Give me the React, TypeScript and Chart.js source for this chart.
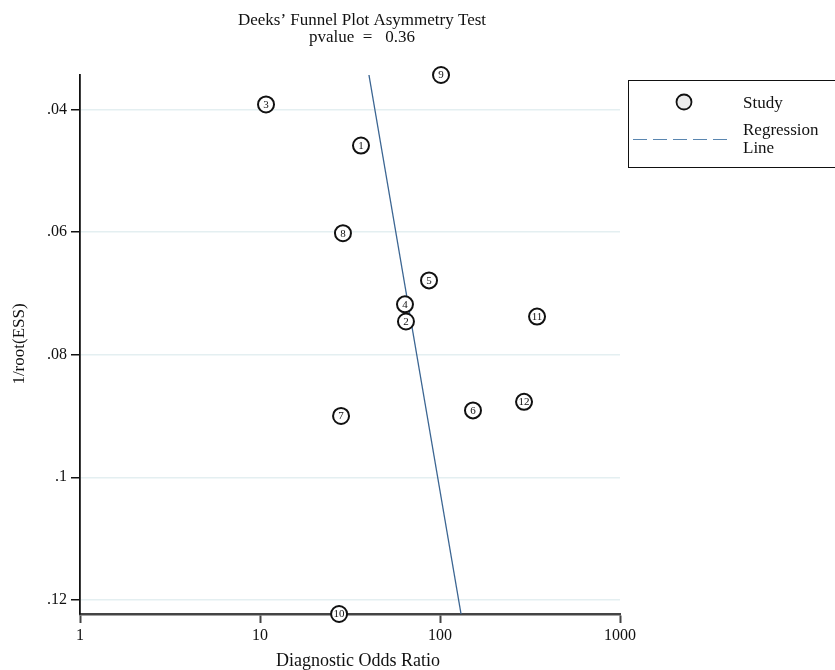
import React, { useEffect, useRef } from 'react';
import { Chart, registerables } from 'chart.js';

Chart.register(...registerables);

const studyIds = ['1', '2', '3', '4', '5', '6', '7', '8', '9', '10', '11', '12'];
const diagnosticOddsRatio = [36.4, 64.7, 10.8, 63.9, 86.9, 152.5, 28.2, 28.9, 101.3, 27.5, 346, 293];
const invRootEss = [0.0459, 0.0746, 0.0392, 0.0718, 0.0679, 0.0891, 0.09, 0.0602, 0.0344, 0.1223, 0.0738, 0.0877];
const regressionDor = [40.3, 130.9];
const regressionY = [0.0344, 0.1223];
const xTickValues = [1, 10, 100, 1000];
const xTickLabels = ['1', '10', '100', '1000'];
const yTickValues = [0.04, 0.06, 0.08, 0.1, 0.12];
const yTickLabels = ['.04', '.06', '.08', '.1', '.12'];
const titleLines = ['Deeks\u2019 Funnel Plot Asymmetry Test', 'pvalue  =   0.36'];
const xAxisTitle = 'Diagnostic Odds Ratio';
const yAxisTitle = '1/root(ESS)';
const legendStudy = 'Study';
const legendRegression = ['Regression', 'Line'];

const FONT = "'Liberation Serif', 'DejaVu Serif', serif";
const W = 835;
const H = 670;
const PLOT_LEFT = 80;
const PLOT_RIGHT = 620;
const PLOT_TOP = 75;
const PLOT_BOTTOM = 614;

const overlayPlugin = {
  id: 'overlay',
  afterDatasetsDraw(chart: any) {
    const ctx = chart.ctx;
    const meta = chart.getDatasetMeta(0);
    ctx.save();
    ctx.fillStyle = '#111';
    ctx.font = `11px ${FONT}`;
    ctx.textAlign = 'center';
    ctx.textBaseline = 'middle';
    meta.data.forEach((el: any, i: number) => {
      ctx.fillText(studyIds[i], el.x, el.y + 0.5);
    });
    ctx.restore();
  },
  afterDraw(chart: any) {
    const ctx = chart.ctx;
    ctx.save();
    ctx.fillStyle = '#111';
    ctx.textAlign = 'center';
    ctx.textBaseline = 'middle';
    ctx.font = `17px ${FONT}`;
    ctx.fillText(titleLines[0], 362, 21);
    ctx.fillText(titleLines[1], 362, 38);
    ctx.font = `18px ${FONT}`;
    ctx.fillText(xAxisTitle, 358, 661);
    ctx.save();
    ctx.translate(20, 344);
    ctx.rotate(-Math.PI / 2);
    ctx.font = `17px ${FONT}`;
    ctx.fillText(yAxisTitle, 0, 0);
    ctx.restore();

    // legend box
    ctx.strokeStyle = '#111';
    ctx.lineWidth = 1;
    ctx.strokeRect(628.5, 80.5, 220, 87);
    ctx.beginPath();
    ctx.arc(684, 102, 7.5, 0, Math.PI * 2);
    ctx.fillStyle = '#ececec';
    ctx.fill();
    ctx.lineWidth = 1.8;
    ctx.strokeStyle = '#111';
    ctx.stroke();
    ctx.beginPath();
    ctx.setLineDash([14, 6]);
    ctx.strokeStyle = '#5a86b0';
    ctx.lineWidth = 1.2;
    ctx.moveTo(633, 139.5);
    ctx.lineTo(729, 139.5);
    ctx.stroke();
    ctx.setLineDash([]);
    ctx.fillStyle = '#111';
    ctx.textAlign = 'left';
    ctx.font = `17px ${FONT}`;
    ctx.fillText(legendStudy, 743, 104);
    ctx.fillText(legendRegression[0], 743, 131);
    ctx.fillText(legendRegression[1], 743, 149);
    ctx.restore();
  },
};

export default function App() {
  const ref = useRef<HTMLCanvasElement>(null);

  useEffect(() => {
    if (!ref.current) return;
    const chart = new Chart(ref.current, {
      type: 'scatter',
      data: {
        datasets: [
          {
            label: 'Study',
            data: diagnosticOddsRatio.map((x, i) => ({ x, y: invRootEss[i] })),
            pointRadius: 8,
            pointHoverRadius: 8,
            pointBackgroundColor: '#ffffff',
            pointBorderColor: '#111111',
            pointBorderWidth: 2,
            clip: false as any,
            order: 0,
          },
          {
            type: 'line' as any,
            label: 'Regression Line',
            data: regressionDor.map((x, i) => ({ x, y: regressionY[i] })),
            borderColor: '#3b6592',
            borderWidth: 1.3,
            pointRadius: 0,
            showLine: true,
            fill: false,
            order: 1,
          },
        ],
      },
      options: {
        animation: false,
        responsive: false,
        maintainAspectRatio: false,
        events: [],
        layout: { padding: { left: 0, right: W - PLOT_RIGHT, top: PLOT_TOP, bottom: 0 } },
        plugins: {
          legend: { display: false },
          title: { display: false },
          tooltip: { enabled: false },
        },
        scales: {
          x: {
            type: 'logarithmic',
            min: 1,
            max: 1000,
            afterBuildTicks: (s: any) => {
              s.ticks = xTickValues.map((v) => ({ value: v }));
            },
            afterFit: (s: any) => {
              s.height = H - PLOT_BOTTOM;
            },
            ticks: {
              autoSkip: false,
              maxRotation: 0,
              color: '#111',
              font: { family: FONT, size: 16 },
              padding: 3,
              callback: (v: any) => xTickLabels[xTickValues.indexOf(Number(v))] ?? '',
            },
            grid: {
              drawOnChartArea: false,
              drawTicks: true,
              tickLength: 9,
              tickColor: '#444',
              tickWidth: 2,
            },
            border: { display: true, color: '#444', width: 2.5 },
          },
          y: {
            type: 'linear',
            reverse: true,
            min: 0.0344,
            max: 0.1223,
            afterBuildTicks: (s: any) => {
              s.ticks = yTickValues.map((v) => ({ value: v }));
            },
            afterFit: (s: any) => {
              s.width = PLOT_LEFT;
            },
            ticks: {
              autoSkip: false,
              color: '#111',
              font: { family: FONT, size: 16 },
              padding: 4,
              callback: (v: any) => {
                const i = yTickValues.findIndex((t) => Math.abs(t - Number(v)) < 1e-9);
                return i >= 0 ? yTickLabels[i] : '';
              },
            },
            grid: {
              color: '#e4eff1',
              lineWidth: 1.5,
              drawTicks: true,
              tickLength: 9,
              tickColor: '#111',
              tickWidth: 1.5,
            },
            border: { display: true, color: '#111', width: 1.8 },
          },
        },
      } as any,
      plugins: [overlayPlugin],
    });
    return () => chart.destroy();
  }, []);

  return (
    <div style={{ position: 'fixed', left: 0, top: 0, width: W, height: H, background: '#fff' }}>
      <canvas ref={ref} width={W} height={H} style={{ width: W, height: H, display: 'block' }} />
    </div>
  );
}
